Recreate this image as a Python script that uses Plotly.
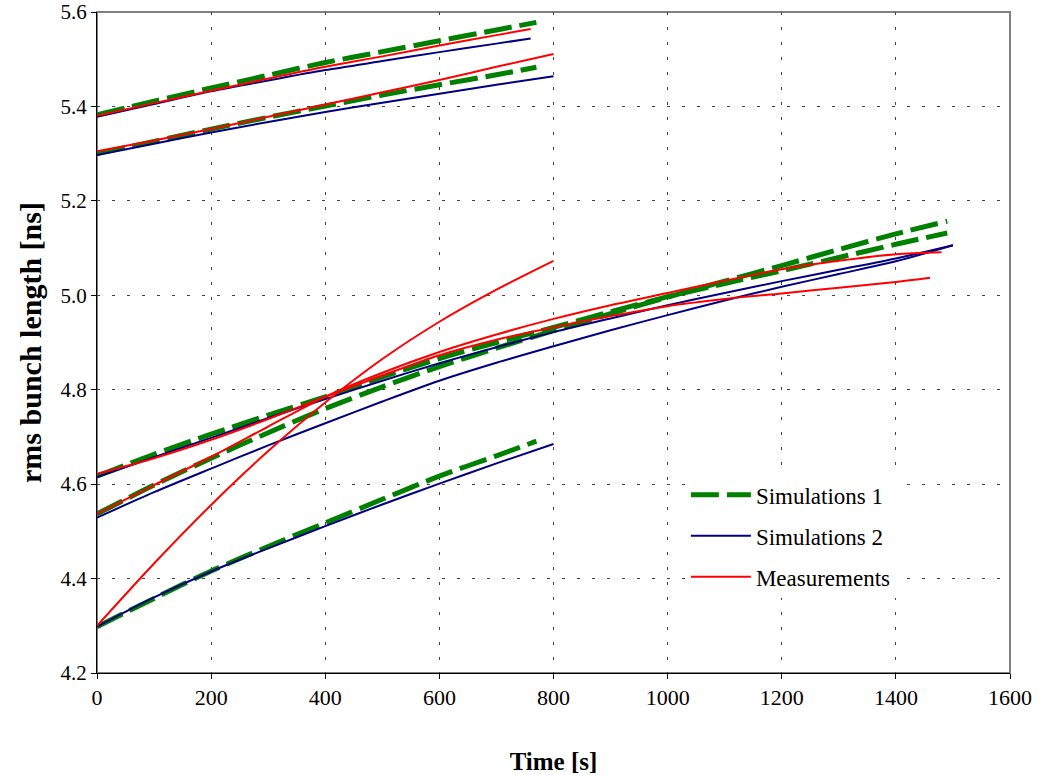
import plotly.graph_objects as go

# ---------------- data ----------------
# Simulations 1 (green dashed)
sim1_t1_x = [0, 100, 200, 300, 400, 500, 600, 700, 770]
sim1_t1_y = [5.382, 5.411, 5.439, 5.466, 5.493, 5.516, 5.539, 5.562, 5.578]
sim1_t2_x = [0, 100, 200, 300, 400, 500, 600, 700, 770]
sim1_t2_y = [5.300, 5.326, 5.352, 5.377, 5.401, 5.424, 5.446, 5.467, 5.483]
sim1_c_x = [0, 100, 200, 300, 400, 500, 600, 700, 770]
sim1_c_y = [4.298, 4.358, 4.416, 4.468, 4.518, 4.568, 4.617, 4.660, 4.691]
sim1_a_x = [0, 100, 200, 300, 400, 500, 600, 700, 800, 900, 1000, 1100, 1200, 1300, 1400, 1490]
sim1_a_y = [4.617, 4.663, 4.706, 4.746, 4.785, 4.827, 4.866, 4.900, 4.932, 4.965, 4.997,
            5.025, 5.052, 5.080, 5.108, 5.132]
sim1_b_x = [0, 100, 200, 300, 400, 500, 600, 700, 800, 900, 1000, 1100, 1200, 1300, 1400, 1490]
sim1_b_y = [4.537, 4.598, 4.655, 4.709, 4.760, 4.806, 4.849, 4.888, 4.925, 4.961, 4.996,
            5.030, 5.063, 5.097, 5.130, 5.157]

# Simulations 2 (navy solid)
sim2_t1_x = [0, 100, 200, 300, 400, 500, 600, 700, 760]
sim2_t1_y = [5.378, 5.405, 5.432, 5.455, 5.477, 5.496, 5.515, 5.533, 5.544]
sim2_t2_x = [0, 100, 200, 300, 400, 500, 600, 700, 800]
sim2_t2_y = [5.297, 5.321, 5.345, 5.367, 5.388, 5.408, 5.427, 5.446, 5.464]
sim2_c_x = [0, 100, 200, 300, 400, 500, 600, 700, 800]
sim2_c_y = [4.298, 4.360, 4.415, 4.464, 4.511, 4.557, 4.601, 4.644, 4.685]
sim2_a_x = [0, 100, 200, 300, 400, 500, 600, 700, 800, 900, 1000, 1100, 1200, 1300, 1400, 1500]
sim2_a_y = [4.615, 4.657, 4.698, 4.740, 4.780, 4.819, 4.856, 4.890, 4.922, 4.951, 4.979,
            5.005, 5.030, 5.054, 5.078, 5.106]
sim2_b_x = [0, 100, 200, 300, 400, 500, 600, 700, 800, 900, 1000, 1100, 1200, 1300, 1400, 1500]
sim2_b_y = [4.529, 4.583, 4.633, 4.682, 4.729, 4.775, 4.819, 4.857, 4.892, 4.926, 4.958,
            4.989, 5.018, 5.045, 5.072, 5.106]

# Measurements (red solid)
meas_t1_x = [0, 100, 200, 300, 400, 500, 600, 700, 760]
meas_t1_y = [5.380, 5.407, 5.433, 5.459, 5.484, 5.506, 5.529, 5.551, 5.564]
meas_t2_x = [0, 100, 200, 300, 400, 500, 600, 700, 800]
meas_t2_y = [5.305, 5.328, 5.352, 5.378, 5.404, 5.430, 5.456, 5.484, 5.511]
meas_c_x = [0, 100, 200, 300, 400, 500, 600, 700, 800]
meas_c_y = [4.300, 4.432, 4.556, 4.670, 4.773, 4.865, 4.944, 5.012, 5.073]
meas_a_x = [0, 100, 200, 300, 400, 500, 600, 700, 800, 900, 1000, 1100, 1200, 1300, 1400, 1460]
meas_a_y = [4.622, 4.655, 4.694, 4.738, 4.785, 4.830, 4.873, 4.906, 4.932, 4.956, 4.977,
            4.992, 5.004, 5.016, 5.028, 5.037]
meas_b_x = [0, 100, 200, 300, 400, 500, 600, 700, 800, 900, 1000, 1100, 1200, 1300, 1400, 1480]
meas_b_y = [4.537, 4.598, 4.658, 4.722, 4.785, 4.836, 4.880, 4.917, 4.950, 4.979, 5.005,
            5.031, 5.055, 5.073, 5.087, 5.091]

x_ticks = [0, 200, 400, 600, 800, 1000, 1200, 1400, 1600]
y_ticks = [4.2, 4.4, 4.6, 4.8, 5.0, 5.2, 5.4, 5.6]


def join(*pairs):
    xs, ys = [], []
    for px, py in pairs:
        xs += list(px) + [None]
        ys += list(py) + [None]
    return xs, ys


FONT = "Liberation Serif"

fig = go.Figure()

x1, y1 = join((sim1_t1_x, sim1_t1_y), (sim1_t2_x, sim1_t2_y), (sim1_c_x, sim1_c_y),
              (sim1_a_x, sim1_a_y), (sim1_b_x, sim1_b_y))
fig.add_trace(go.Scatter(x=x1, y=y1, mode="lines", name="Simulations 1", legendgroup="s1",
                         line=dict(color="#008000", width=5, dash="28px,8px", shape="spline", smoothing=0.8),
                         connectgaps=False))

x2, y2 = join((sim2_t1_x, sim2_t1_y), (sim2_t2_x, sim2_t2_y), (sim2_c_x, sim2_c_y),
              (sim2_a_x, sim2_a_y), (sim2_b_x, sim2_b_y))
fig.add_trace(go.Scatter(x=x2, y=y2, mode="lines", name="Simulations 2", legendgroup="s2",
                         line=dict(color="#000080", width=2, shape="spline", smoothing=0.8),
                         connectgaps=False))

x3, y3 = join((meas_t1_x, meas_t1_y), (meas_t2_x, meas_t2_y), (meas_c_x, meas_c_y),
              (meas_a_x, meas_a_y), (meas_b_x, meas_b_y))
fig.add_trace(go.Scatter(x=x3, y=y3, mode="lines", name="Measurements", legendgroup="m",
                         line=dict(color="#FF0000", width=2, shape="spline", smoothing=0.8),
                         connectgaps=False))

fig.add_shape(type="rect", xref="paper", yref="paper", x0=0, y0=0, x1=1, y1=1,
              line=dict(color="#808080", width=2), layer="below")

fig.update_layout(
    width=1042, height=775,
    margin=dict(l=97, r=32, t=12, b=102),
    paper_bgcolor="white", plot_bgcolor="white",
    font=dict(family=FONT, size=21, color="black"),
    showlegend=True,
    legend=dict(x=0.645, y=0.302, xanchor="left", yanchor="top",
                bgcolor="white", borderwidth=0,
                font=dict(family=FONT, size=23, color="black"),
                itemwidth=60, tracegroupgap=8),
    xaxis=dict(range=[0, 1600], tickvals=x_ticks, ticktext=[str(v) for v in x_ticks],
               showgrid=True, gridcolor="#444", griddash="3px,12px", gridwidth=1,
               showline=True, linecolor="black", linewidth=1,
               ticks="outside", ticklen=5, tickcolor="black",
               tickfont=dict(family=FONT, size=22),
               zeroline=False, automargin=False,
               title=dict(text="<b>Time [s]</b>", standoff=46,
                          font=dict(family=FONT, size=25))),
    yaxis=dict(range=[4.2, 5.6], tickvals=y_ticks, ticktext=[f"{v:.1f}" for v in y_ticks],
               showgrid=True, gridcolor="#444", griddash="3px,12px", gridwidth=1,
               showline=True, linecolor="black", linewidth=1,
               ticks="outside", ticklen=5, tickcolor="black",
               tickfont=dict(family=FONT, size=21),
               zeroline=False, automargin=False,
               title=dict(text="<b>rms bunch length [ns]</b>", standoff=10,
                          font=dict(family=FONT, size=30))),
)

fig.write_html("out.html")
